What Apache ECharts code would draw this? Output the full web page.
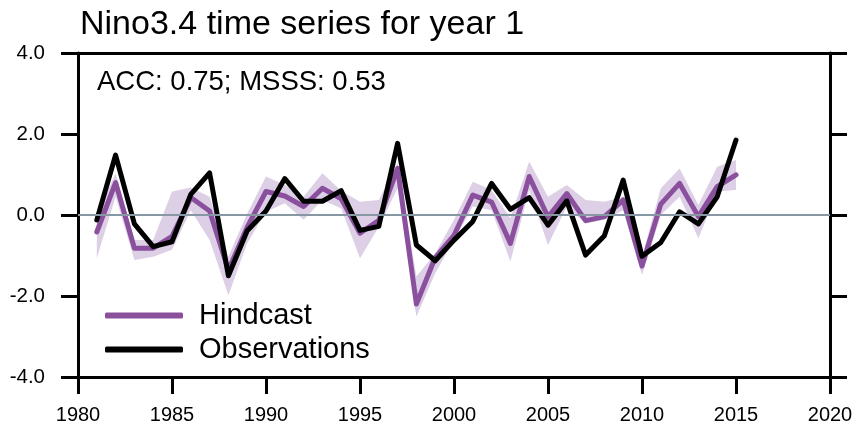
<!DOCTYPE html>
<html>
<head>
<meta charset="utf-8">
<script src="https://cdn.jsdelivr.net/npm/echarts@6/dist/echarts.min.js"></script>
<style>
html,body{margin:0;padding:0;background:#fff;}
#chart{width:858px;height:427px;}
</style>
</head>
<body>
<div id="chart"></div>
<script>
const years = [1981,1982,1983,1984,1985,1986,1987,1988,1989,1990,1991,1992,1993,1994,1995,1996,1997,1998,1999,2000,2001,2002,2003,2004,2005,2006,2007,2008,2009,2010,2011,2012,2013,2014,2015];
const observations = [-0.12,1.48,-0.22,-0.78,-0.66,0.51,1.04,-1.50,-0.39,0.10,0.90,0.34,0.34,0.60,-0.38,-0.28,1.77,-0.74,-1.13,-0.62,-0.16,0.78,0.14,0.43,-0.25,0.35,-0.99,-0.51,0.86,-1.02,-0.68,0.08,-0.22,0.45,1.85];
const hindcast = [-0.42,0.80,-0.82,-0.82,-0.53,0.43,0.10,-1.36,-0.30,0.58,0.47,0.21,0.66,0.40,-0.45,-0.13,1.15,-2.20,-1.05,-0.50,0.49,0.32,-0.70,0.95,-0.05,0.53,-0.14,-0.04,0.37,-1.26,0.27,0.78,-0.04,0.70,0.99];
const bandUpper = [0.00,1.03,-0.62,-0.62,0.58,0.68,0.45,-1.03,0.04,0.95,0.74,0.45,1.03,0.60,0.33,0.37,1.28,-1.52,-0.95,-0.12,0.82,0.62,-0.08,1.32,0.45,0.74,0.37,0.33,0.45,-1.03,0.66,1.15,0.25,1.19,1.36];
const bandLower = [-1.07,0.45,-1.11,-1.03,-0.86,0.12,-0.62,-1.98,-0.70,0.08,0.29,-0.12,0.37,0.16,-1.07,-0.29,0.66,-2.51,-1.44,-0.62,0.21,0.12,-1.15,0.62,-0.74,0.21,-0.21,-0.12,0.12,-1.48,0.00,0.45,-0.58,0.58,0.62];
const yearTicks = [1980,1985,1990,1995,2000,2005,2010,2015,2020];
const valueTicks = [-4,-2,0,2,4];
const titleText = 'Nino3.4 time series for year 1';
const scoreText = 'ACC: 0.75; MSSS: 0.53';

const FONT = 'Liberation Sans, Arial, Helvetica, sans-serif';
const pair = arr => years.map((y, i) => [y, arr[i]]);

const chart = echarts.init(document.getElementById('chart'), null, {renderer: 'canvas'});
const axisLine = {show: true, onZero: false, lineStyle: {color: '#000', width: 3}};
const yAxisBase = {
  type: 'value', min: valueTicks[0], max: valueTicks[valueTicks.length - 1], interval: 2,
  axisLine: axisLine, splitLine: {show: false},
  axisTick: {show: true, inside: false, length: 17, lineStyle: {color: '#000', width: 3}}
};
chart.setOption({
  animation: false,
  backgroundColor: '#fff',
  title: {
    text: titleText, left: 80, top: 8, padding: 0,
    textStyle: {fontFamily: FONT, fontSize: 34, fontWeight: 'normal', color: '#000'}
  },
  graphic: [{
    type: 'text', x: 97, y: 82, silent: true,
    style: {text: scoreText, font: '27.5px ' + FONT, fill: '#000', align: 'left', verticalAlign: 'middle'}
  }],
  grid: {left: 78, right: 28, top: 53, bottom: 50, containLabel: false},
  legend: {
    data: [{name: 'Hindcast', icon: 'roundRect'}, {name: 'Observations', icon: 'roundRect'}],
    orient: 'vertical', left: 105, top: 301, padding: 0,
    itemWidth: 78, itemHeight: 6, itemGap: 5,
    selectedMode: false,
    textStyle: {fontFamily: FONT, fontSize: 29, lineHeight: 29, color: '#000', padding: [0, 0, 0, 11]}
  },
  xAxis: [{
    type: 'value', min: yearTicks[0], max: yearTicks[yearTicks.length - 1], interval: 5,
    position: 'bottom',
    axisLine: axisLine, splitLine: {show: false},
    axisTick: {show: true, inside: false, length: 17, lineStyle: {color: '#000', width: 3}},
    axisLabel: {show: true, margin: 28, fontFamily: FONT, fontSize: 20, color: '#000', formatter: v => String(v)}
  }, {
    type: 'value', min: yearTicks[0], max: yearTicks[yearTicks.length - 1], interval: 5,
    position: 'top',
    axisLine: axisLine, splitLine: {show: false},
    axisTick: {show: false}, axisLabel: {show: false}
  }],
  yAxis: [
    Object.assign({}, yAxisBase, {
      position: 'left',
      axisLabel: {show: true, margin: 33, fontFamily: FONT, fontSize: 20.5, color: '#000', formatter: v => v.toFixed(1)}
    }),
    Object.assign({}, yAxisBase, {position: 'right', axisLabel: {show: false}})
  ],
  series: [
    {
      name: 'band', type: 'custom', silent: true,
      xAxisIndex: 0, yAxisIndex: 0,
      data: [[years[0], bandLower[0]]],
      renderItem: function (params, api) {
        const top = years.map((y, i) => api.coord([y, bandUpper[i]]));
        const bottom = years.map((y, i) => api.coord([y, bandLower[i]])).reverse();
        return {
          type: 'polygon',
          shape: {points: top.concat(bottom)},
          style: {fill: '#ddcfe6', stroke: null}
        };
      },
      markLine: {
        silent: true, symbol: 'none', label: {show: false},
        lineStyle: {color: '#8797a3', width: 2, type: 'solid'},
        data: [{yAxis: 0}]
      }
    },
    {
      name: 'Hindcast', type: 'line', data: pair(hindcast), symbol: 'none',
      color: '#8a509e',
      lineStyle: {color: '#8a509e', width: 5, cap: 'round', join: 'round'}
    },
    {
      name: 'Observations', type: 'line', data: pair(observations), symbol: 'none',
      color: '#000',
      lineStyle: {color: '#000', width: 5, cap: 'round', join: 'round'}
    }
  ]
});
</script>
</body>
</html>
